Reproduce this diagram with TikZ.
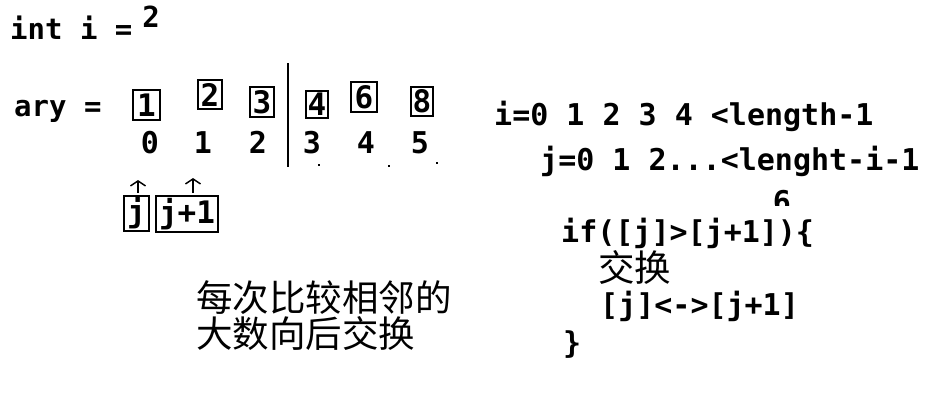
\documentclass[tikz,border=0pt]{standalone}
\usepackage{fontspec}
\setmonofont{DejaVu Sans Mono}
\newfontfamily\cjkfam{Noto Sans CJK SC}
\usetikzlibrary{arrows.meta}
\begin{document}
\begin{tikzpicture}[x=1pt,y=-1pt,
  code/.style={font=\ttfamily\bfseries\fontsize{30}{36}\selectfont, inner sep=0pt, anchor=base west},
  codeL/.style={font=\ttfamily\bfseries\fontsize{29}{35}\selectfont, inner sep=0pt, anchor=base west},
  idx/.style={font=\ttfamily\bfseries\fontsize{30}{36}\selectfont, inner sep=0pt, anchor=base},
  cjktext/.style={font=\cjkfam\fontsize{36.5}{42}\selectfont, inner sep=0pt, anchor=west},
  valbox/.style={draw, line width=2.4pt, inner sep=0pt, font=\ttfamily\bfseries\fontsize{31}{36}\selectfont},
  arr/.style={line width=1.6pt, -{Straight Barb[length=5pt,width=15pt,line width=1.5pt]}},
  speck/.style={fill=black, inner sep=0pt, minimum size=2pt}
]
\useasboundingbox[fill=white] (0,0) rectangle (944,413);

% top left
\node[codeL] (inti) at (10,39) {int i =};
\node[codeL, anchor=base] (two) at (151,27) {2};
\node[codeL] (ary) at (14,116) {ary =};

% array boxes
\node[valbox, minimum width=27pt, minimum height=30pt] (b1) at (146.5,105) {1};
\node[valbox, minimum width=24pt, minimum height=29pt] (b2) at (210,94.5) {2};
\node[valbox, minimum width=24pt, minimum height=30pt] (b3) at (262,102) {3};
\node[valbox, minimum width=22pt, minimum height=27pt] (b4) at (317,104.5) {4};
\node[valbox, minimum width=26pt, minimum height=30pt] (b6) at (364,97) {6};
\node[valbox, minimum width=22pt, minimum height=29pt] (b8) at (422,101.5) {8};

% indices
\node[idx] (i0) at (150,153) {0};
\node[idx] (i1) at (203,153) {1};
\node[idx] (i2) at (258,153) {2};
\node[idx] (i3) at (312,153) {3};
\node[idx] (i4) at (366,153) {4};
\node[idx] (i5) at (420,153) {5};

% divider
\coordinate (dtop) at (288,63);
\coordinate (dbot) at (288,167);
\draw[line width=2pt] (dtop) -- (dbot);

% specks
\node[speck] (s1) at (319,165) {};
\node[speck] (s2) at (389,166) {};
\node[speck] (s3) at (437,163) {};

% j boxes and arrows
\node[valbox, minimum width=25pt, minimum height=35pt] (jb) at (136.5,213.5) {j};
\node[valbox, minimum width=62pt, minimum height=36pt] (jb1) at (187,214) {j+1};
\coordinate (aj1) at (138,193);
\coordinate (aj2) at (138,180);
\coordinate (ak1) at (193,193);
\coordinate (ak2) at (193,178);
\draw[arr] (aj1) -- (aj2);
\draw[arr] (ak1) -- (ak2);

% right code
\node[code] (li) at (494,125) {i=0 1 2 3 4 <length-1};
\node[code] (lj) at (540,170) {j=0 1 2...<lenght-i-1};
\begin{scope}
  \clip (760,180) rectangle (800,205);
  \node[code, anchor=base] (six) at (782,212) {6};
\end{scope}
\node[code] (lif) at (561,242) {if([j]>[j+1])\{};
\node[cjktext] (swap1) at (598,267) {交换};
\node[code] (lsw) at (600,315) {[j]<->[j+1]};
\node[code] (lend) at (563,353) {\}};

% bottom note
\node[cjktext] (note1) at (196,298) {每次比较相邻的};
\node[cjktext] (note2) at (196,334) {大数向后交换};
\end{tikzpicture}
\end{document}
